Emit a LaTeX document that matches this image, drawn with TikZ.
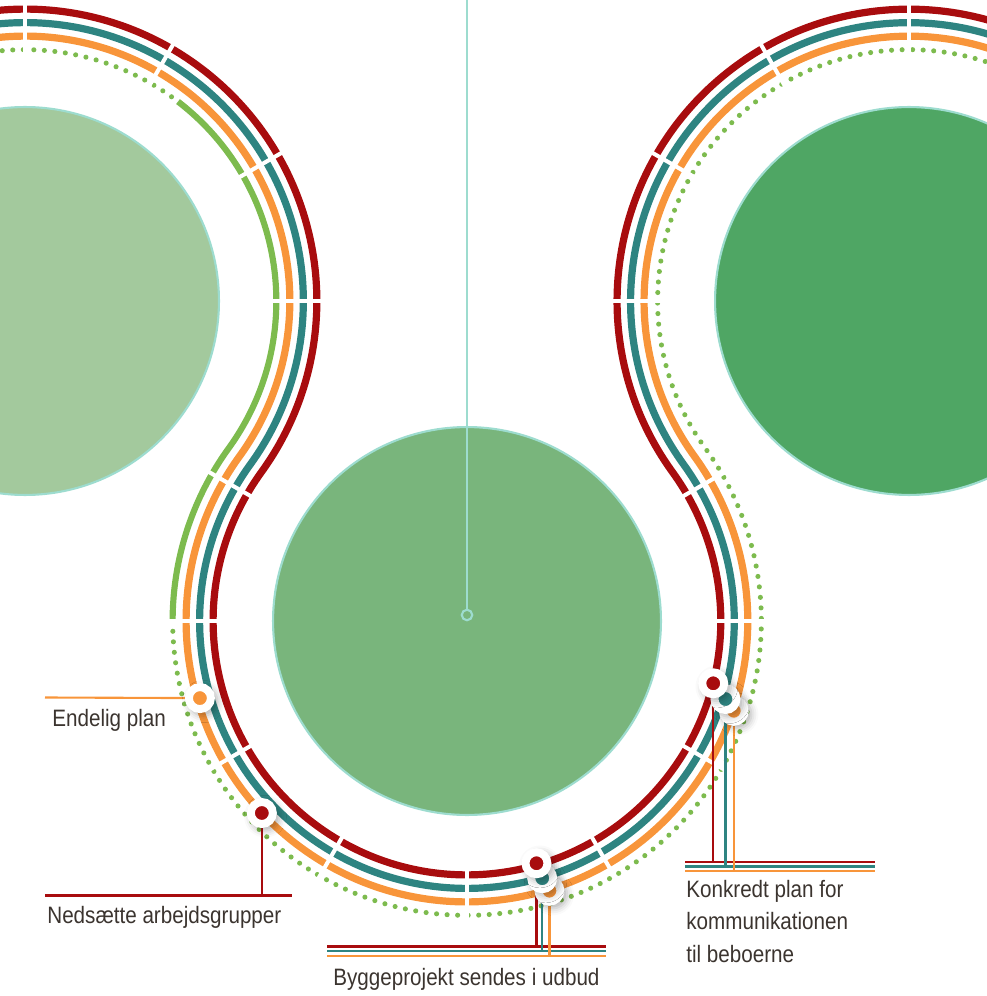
\documentclass[tikz,border=0pt]{standalone}
\usepackage{fontspec}
\newfontfamily\labelfont[FakeStretch=0.87]{Liberation Sans}
\usepackage{tikz}
\usetikzlibrary{calc,backgrounds,shadows.blur}

\definecolor{trackred}{HTML}{A80C0E}
\definecolor{trackteal}{HTML}{2E8481}
\definecolor{trackorange}{HTML}{F8953A}
\definecolor{trackgreen}{HTML}{7DBB4E}
\definecolor{paleleaf}{HTML}{A3C99D}
\definecolor{midleaf}{HTML}{79B57C}
\definecolor{darkleaf}{HTML}{4FA664}
\definecolor{rim}{HTML}{9DDCCF}
\definecolor{labelgrey}{HTML}{3B342F}

\tikzset{
    disc/.style={circle, draw=rim, line width=1.2pt, minimum size=7.76cm, inner sep=0},
    track/.style={line width=4.1pt},
    greensolid/.style={line width=3.5pt, trackgreen},
    greendots/.style={line width=2.9pt, trackgreen, line cap=round, dash pattern=on 0pt off 6pt},
    gap/.style={white, line width=2.3pt},
    spoke/.style={rim, line width=1.2pt},
    hub/.style={circle, draw=rim, line width=1.2pt, minimum size=0.21cm, inner sep=0},
    marker/.style={circle, draw=white, line width=4.5pt, minimum size=0.44cm, inner sep=0,
        blur shadow={shadow xshift=1.5pt, shadow yshift=-1.5pt, shadow scale=1.3, shadow blur radius=3pt, shadow opacity=30}},
    leader/.style={line width=1.2pt},
    caption/.style={font=\labelfont\fontsize{13.5}{18.4}\selectfont, text=labelgrey, inner sep=0, align=left},
}

\begin{document}
\begin{tikzpicture}[x=0.02cm, y=0.02cm]
    \useasboundingbox (0,0) rectangle (986,-996);
    \pgfmathsetmacro{\hd}{272.84}
    \pgfmathsetmacro{\ang}{35.91}
    \coordinate (L) at (25,-301);
    \coordinate (M) at (467,-621);
    \coordinate (R) at (909,-301);

    % milestones
    \node[marker, fill=trackorange] (endelig) at ($(M)+(196.1:278)$) {};
    \node[marker, fill=trackred] (ned) at ($(M)+(223.1:281)$) {};
    \node[marker, fill=trackorange] (bygg-o) at ($(M)+(287:282)$) {};
    \node[marker, fill=trackteal] (bygg-t) at ($(M)+(286.3:268)$) {};
    \node[marker, fill=trackred] (bygg-r) at ($(M)+(286:252)$) {};
    \node[marker, fill=trackorange] (konk-o) at ($(M)+(-18.6:281.5)$) {};
    \node[marker, fill=trackteal] (konk-t) at ($(M)+(-16.8:270)$) {};
    \node[marker, fill=trackred] (konk-r) at ($(M)+(-14.2:254)$) {};

    \begin{scope}[on background layer]
        \node[disc, fill=paleleaf] (leftdisc) at (L) {};
        \node[disc, fill=midleaf] (middisc) at (M) {};
        \node[disc, fill=darkleaf] (rightdisc) at (R) {};

        % the three full tracks
        \foreach \d/\col in {19/trackred, 5.5/trackteal, -8/trackorange}
            \draw[track, \col] (L) ++(100:{\hd+(\d)})
                arc[start angle=100, end angle=-\ang, radius={\hd+(\d)}]
                arc[start angle=180-\ang, end angle=360+\ang, radius={\hd-(\d)}]
                arc[start angle=180+\ang, end angle=55, radius={\hd+(\d)}];

        % green track
        \draw[greendots] (L) ++(100:{\hd-21.5}) arc[start angle=100, end angle=54, radius={\hd-21.5}];
        \draw[greensolid] (L) ++(52.5:{\hd-21.5})
            arc[start angle=52.5, end angle=-\ang, radius={\hd-21.5}]
            arc[start angle=180-\ang, end angle=180, radius={\hd+21.5}];
        \draw[greendots] (M) ++(182:{\hd+21.5})
            arc[start angle=182, end angle=360+\ang, radius={\hd+21.5}]
            arc[start angle=180+\ang, end angle=55, radius={\hd-21.5}];

        % white cuts
        \foreach \a in {0,30,60,90}
            \draw[gap] (L) ++(\a:{\hd-28}) -- ++(\a:56);
        \foreach \a in {30,0,...,-210}
            \draw[gap] (M) ++(\a:{\hd-28}) -- ++(\a:56);
        \foreach \a in {90,120,150,180}
            \draw[gap] (R) ++(\a:{\hd-28}) -- ++(\a:56);

        \coordinate (sky) at (467,0);
        \node[hub] (hub) at (467,-615) {};
        \draw[spoke] (sky) -- (hub);

        % leaders
        \coordinate (endelig-rail) at (45,-697.5);
        \draw[leader, trackorange] (endelig-rail) -- (endelig);
        \coordinate (ned-rail) at (45,-895.5);
        \draw[leader, trackred] (ned-rail) -- ++(247,0);
        \draw[leader, trackred] (ned) -- (ned |- ned-rail);
        \foreach \m/\col/\y in {bygg-r/trackred/946.5, bygg-t/trackteal/951.3, bygg-o/trackorange/956} {
            \coordinate (\m-rail) at (327,-\y);
            \draw[leader, \col] (\m-rail) -- ++(279,0);
            \draw[leader, \col] (\m) -- (\m |- \m-rail);
        }
        \foreach \m/\col/\y in {konk-r/trackred/862, konk-t/trackteal/866.5, konk-o/trackorange/871} {
            \coordinate (\m-rail) at (685,-\y);
            \draw[leader, \col] (\m-rail) -- ++(190,0);
            \draw[leader, \col] (\m) -- (\m |- \m-rail);
        }
    \end{scope}

    \node[caption, anchor=base west] (endelig-label) at (52,-726) {Endelig plan};
    \node[caption, anchor=base west] (ned-label) at (47,-923) {Nedsætte arbejdsgrupper};
    \node[caption, anchor=base west] (bygg-label) at (333,-985) {Byggeprojekt sendes i udbud};
    \node[caption, anchor=base west] (konk-label) at (686,-962) {Konkredt plan for\\kommunikationen\\til beboerne};
\end{tikzpicture}
\end{document}
